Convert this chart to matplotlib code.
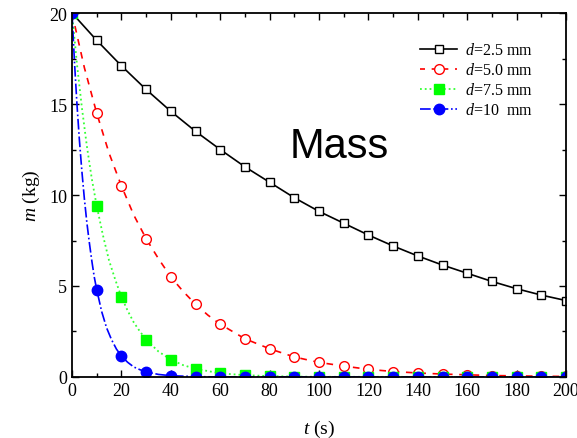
import matplotlib
matplotlib.use("Agg")
import matplotlib.pyplot as plt
from matplotlib.ticker import MultipleLocator
from matplotlib.lines import Line2D

# marker data (every 10 s)
t_mark = [0, 10, 20, 30, 40, 50, 60, 70, 80, 90, 100, 110, 120, 130, 140, 150, 160, 170, 180, 190, 200]
m_25 = [20, 18.5, 17.1, 15.8, 14.6, 13.5, 12.5, 11.55, 10.7, 9.85, 9.1, 8.45, 7.8, 7.2, 6.65, 6.15, 5.7, 5.25, 4.85, 4.5, 4.2]
m_50 = [20, 14.5, 10.5, 7.6, 5.5, 4.0, 2.9, 2.1, 1.55, 1.1, 0.8, 0.6, 0.42, 0.3, 0.22, 0.16, 0.12, 0.08, 0.06, 0.04, 0.03]
m_75 = [20, 9.4, 4.4, 2.05, 0.95, 0.45, 0.2, 0.1, 0.05, 0.02, 0.01, 0, 0, 0, 0, 0, 0, 0, 0, 0, 0]
m_10 = [20, 4.8, 1.15, 0.28, 0.07, 0.02, 0, 0, 0, 0, 0, 0, 0, 0, 0, 0, 0, 0, 0, 0, 0]

# curve points
t_line_50 = [0, 5, 10, 15, 20, 25, 30, 35, 40, 45, 50, 55, 60, 70, 80, 90, 100, 110, 120, 130, 140, 150, 160, 170, 180, 190, 200]
c_50 = [20, 17.0, 14.5, 12.3, 10.5, 8.9, 7.6, 6.5, 5.5, 4.7, 4.0, 3.4, 2.9, 2.1, 1.55, 1.1, 0.8, 0.6, 0.42, 0.3, 0.22, 0.16, 0.12, 0.08, 0.06, 0.04, 0.03]
t_line_75 = [0, 2, 4, 6, 8, 10, 12.5, 15, 17.5, 20, 22.5, 25, 27.5, 30, 35, 40, 45, 50, 60, 70, 80, 90, 100, 200]
c_75 = [20, 17.2, 14.8, 12.7, 10.9, 9.4, 7.8, 6.4, 5.35, 4.4, 3.65, 3.0, 2.5, 2.05, 1.4, 0.95, 0.65, 0.45, 0.2, 0.1, 0.05, 0.02, 0.01, 0]
t_line_10 = [0, 1, 2, 3, 4, 5, 6, 7, 8, 9, 10, 12, 14, 16, 18, 20, 22.5, 25, 27.5, 30, 35, 40, 50, 60, 200]
c_10 = [20, 17.3, 15.0, 13.0, 11.3, 9.8, 8.5, 7.4, 6.4, 5.5, 4.8, 3.6, 2.7, 2.05, 1.53, 1.15, 0.81, 0.55, 0.4, 0.28, 0.14, 0.07, 0.02, 0, 0]

labels = ["2.5", "5.0", "7.5", "10 "]

plt.rcParams['font.family'] = ['Liberation Serif', 'DejaVu Serif']
plt.rcParams['mathtext.fontset'] = 'custom'
plt.rcParams['mathtext.it'] = 'Liberation Serif:italic'
plt.rcParams['mathtext.rm'] = 'Liberation Serif'

fig = plt.figure(figsize=(5.77, 4.39), dpi=100)
ax = fig.add_axes([0.1248, 0.139, 0.8562, 0.829])

ax.plot(t_mark, m_25, '-', color='black', lw=1.2, marker='s', ms=6, mfc='white', mec='black', mew=1.0)
ax.plot(t_line_50, c_50, '--', color='#ff0000', lw=1.2, dashes=(4, 4))
ax.plot(t_mark, m_50, 'none', marker='o', ms=7, mfc='white', mec='#ff0000', mew=1.0)
ax.plot(t_line_75, c_75, ':', color='#33ff33', lw=1.3)
ax.plot(t_mark, m_75, 'none', marker='s', ms=6.5, mfc='#00ff00', mec='#00ff00')
ax.plot(t_line_10, c_10, '-.', color='#0000ff', lw=1.2)
ax.plot(t_mark, m_10, 'none', marker='o', ms=7.5, mfc='#0000ff', mec='#0000ff')

handles = [
    Line2D([], [], ls='-', color='black', lw=1.2, marker='s', ms=6, mfc='white', mec='black'),
    Line2D([], [], ls='--', color='#ff0000', lw=1.2, dashes=(3, 4), marker='o', ms=7, mfc='white', mec='#ff0000'),
    Line2D([], [], ls=':', color='#33ff33', lw=1.3, marker='s', ms=6.5, mfc='#00ff00', mec='#00ff00'),
    Line2D([], [], ls='-.', color='#0000ff', lw=1.2, marker='o', ms=7.5, mfc='#0000ff', mec='#0000ff'),
]
leg_labels = [r'$d$=' + l + ' mm' for l in labels]
ax.legend(handles, leg_labels, loc='upper right', bbox_to_anchor=(0.955, 0.95), frameon=False,
          fontsize=11.5, handlelength=2.3, handletextpad=0.5, labelspacing=0.25, borderaxespad=0.3)

ax.text(108, 12.7, 'Mass', fontsize=30, family='Liberation Sans', ha='center', va='center')

ax.set_xlim(0, 200)
ax.set_ylim(0, 20)
ax.xaxis.set_major_locator(MultipleLocator(20))
ax.xaxis.set_minor_locator(MultipleLocator(10))
ax.yaxis.set_major_locator(MultipleLocator(5))
ax.yaxis.set_minor_locator(MultipleLocator(2.5))
ax.tick_params(which='both', direction='in', top=True, right=True, labelsize=13, width=1.0)
ax.tick_params(which='major', length=5)
ax.tick_params(which='minor', length=3)
for s in ax.spines.values():
    s.set_linewidth(1.3)

ax.set_xlabel(r'$t$ (s)', fontsize=14, labelpad=14)
ax.set_ylabel(r'$m$ (kg)', fontsize=14, labelpad=5)

fig.savefig('out.png', dpi=100)
